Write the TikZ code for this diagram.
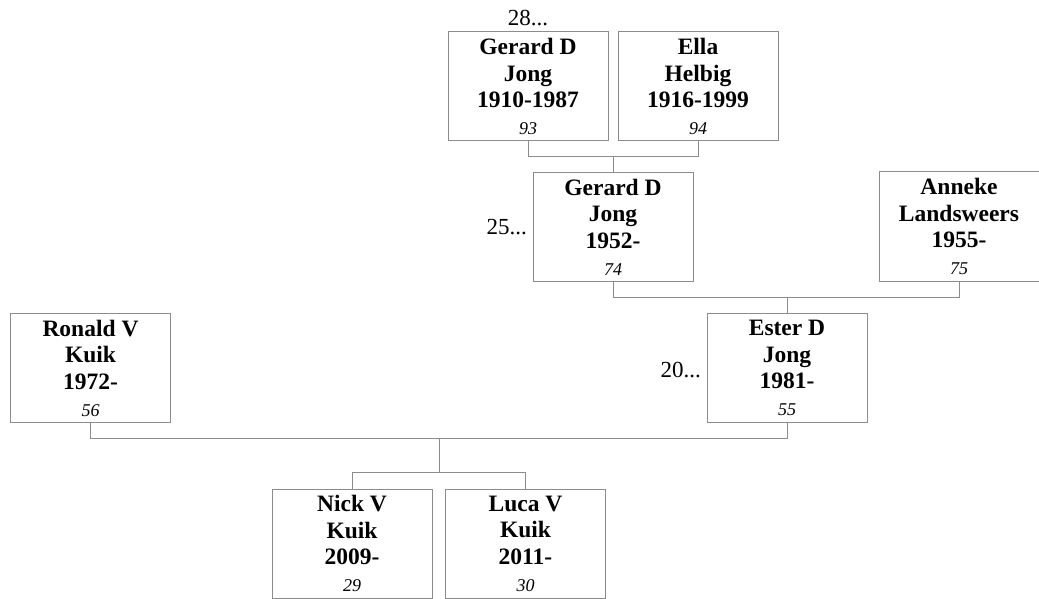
\documentclass[tikz,border=0pt]{standalone}
\usepackage{fontspec}
\setmainfont{Liberation Serif}
\usepackage{xcolor}
\usepackage{tikz}

\definecolor{boxline}{HTML}{8C8C8C}
\tikzset{
	person/.style={draw=boxline, line width=1pt, minimum width=160pt, minimum height=109pt,
		inner sep=0pt, align=center, font=\fontsize{23.5}{26.5}\selectfont\bfseries},
	link/.style={draw=boxline, line width=1pt},
	gen/.style={inner sep=0pt, font=\fontsize{23}{26}\selectfont}
}
\newcommand{\idno}[1]{\\[0.5pt]{\fontsize{18}{20}\selectfont\mdseries\itshape #1}}

\begin{document}
\begin{tikzpicture}[x=1pt,y=-1pt]
	\useasboundingbox (0,0) rectangle (1039,599);
	\node[person] at (528,86.5) (93) {Gerard D\\Jong\\1910-1987\idno{93}};
	\node[person] at (698,86.5) (94) {Ella\\Helbig\\1916-1999\idno{94}};
	\node[person] at (613,227) (74) {Gerard D\\Jong\\1952-\idno{74}};
	\node[person] at (959,226.5) (75) {Anneke\\Landsweers\\1955-\idno{75}};
	\node[person] at (90.5,368) (56) {Ronald V\\Kuik\\1972-\idno{56}};
	\node[person] at (787,368) (55) {Ester D\\Jong\\1981-\idno{55}};
	\node[person] at (352,543.5) (29) {Nick V\\Kuik\\2009-\idno{29}};
	\node[person] at (525.5,543.5) (30) {Luca V\\Kuik\\2011-\idno{30}};
	\node[gen] at (528,18) (g28) {28...};
	\node[gen,anchor=east] at (527,227.5) (g25) {25...};
	\node[gen,anchor=east] at (701,370.5) (g20) {20...};
	\coordinate (fam) at (439,438);
	\coordinate (kids) at (439,473);
	\draw[link] (93.south) -- ++(0,15) -| (94.south);
	\draw[link] (74.north) -- ++(0,-16);
	\draw[link] (74.south) -- ++(0,15) -| (75.south);
	\draw[link] (55.north) -- ++(0,-16);
	\draw[link] (56.south) -- ++(0,15) -| (55.south);
	\draw[link] (fam) -- (kids);
	\draw[link] (29.north) -- ++(0,-16) -| (30.north);
\end{tikzpicture}
\end{document}
